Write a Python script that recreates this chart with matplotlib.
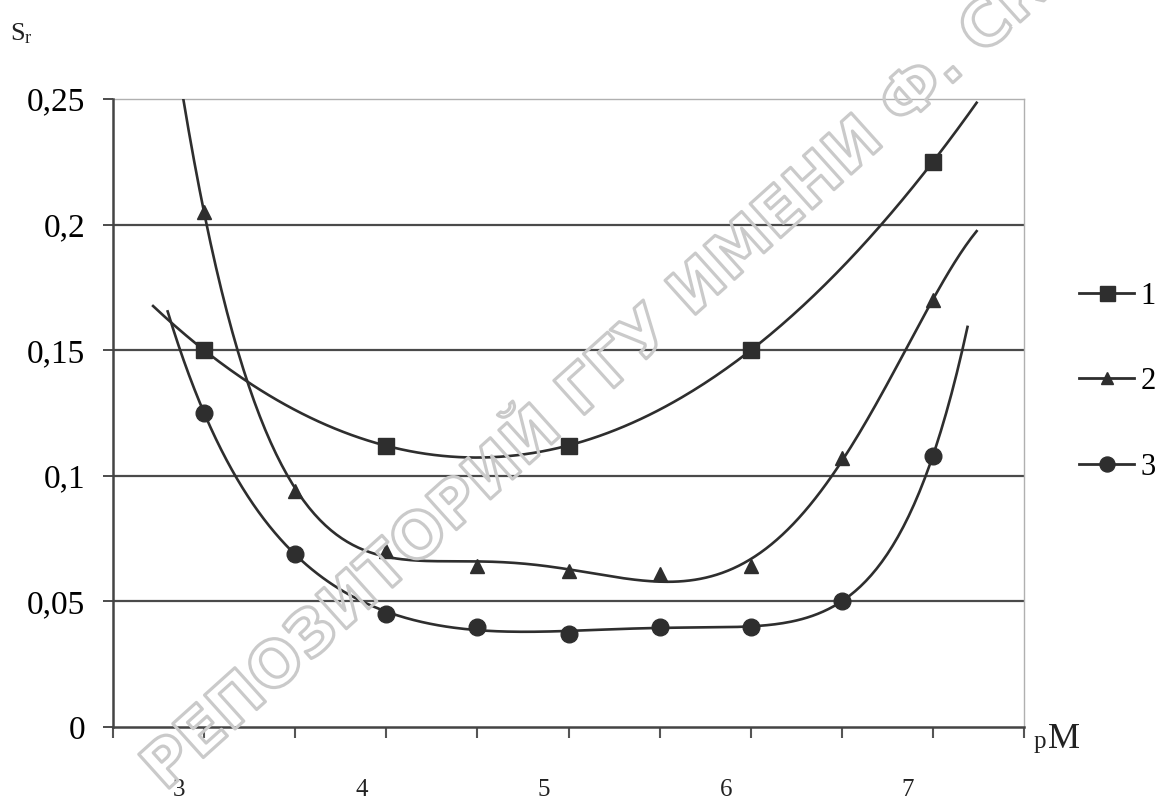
import matplotlib
matplotlib.use("Agg")
import matplotlib.pyplot as plt
import matplotlib.patheffects as pe
import numpy as np

# pM values
x_sq = [3, 4, 5, 6, 7]
x_all = [3, 3.5, 4, 4.5, 5, 5.5, 6, 6.5, 7]

# Sr values
s1 = [0.150, 0.112, 0.112, 0.150, 0.225]
s2 = [0.205, 0.094, 0.070, 0.064, 0.062, 0.061, 0.064, 0.107, 0.170]
s3 = [0.125, 0.069, 0.045, 0.040, 0.037, 0.040, 0.040, 0.050, 0.108]

names = ["1", "2", "3"]
x_labels = [3, 4, 5, 6, 7]
y_ticks = [0, 0.05, 0.1, 0.15, 0.2, 0.25]
y_labels = ["0", "0,05", "0,1", "0,15", "0,2", "0,25"]

INK = "#2e2e2e"
W, H = 1174, 802

plt.rcParams['font.family'] = ['Liberation Serif', 'DejaVu Serif']

fig = plt.figure(figsize=(W / 100, H / 100), dpi=100)
ax = fig.add_axes([113 / W, 1 - 727 / H, (1024 - 113) / W, (727 - 99) / H])

# grid lines (Excel style)
for v in y_ticks[1:-1]:
    ax.axhline(v, color="#4a4a4a", lw=1.6, zorder=1)

# marker, size, poly degree of the trend line, drawn range of the trend line
series = [
    (x_sq, s1, "s", 12, 3, (2.72, 7.24)),
    (x_all, s2, "^", 10, 6, (2.75, 7.24)),
    (x_all, s3, "o", 12, 6, (2.80, 7.19)),
]

handles = []
for (xs, ys, mk, ms, deg, rng), name in zip(series, names):
    # polynomial trend line fitted to the points
    coef = np.polyfit(xs, ys, deg)
    xx = np.linspace(rng[0], rng[1], 300)
    ax.plot(xx, np.polyval(coef, xx), color=INK, lw=1.9, zorder=3)
    ax.plot(xs, ys, ls="none", marker=mk, ms=ms, color=INK, zorder=4)
    h, = ax.plot([], [], color=INK, lw=2, marker=mk, ms=ms * 0.9, label=name)
    handles.append(h)

ax.set_xlim(2.5, 7.5)
ax.set_ylim(0, 0.25)
ax.set_xticks(np.arange(2.5, 7.51, 0.5))
ax.set_xticklabels([])
ax.set_yticks(y_ticks)
ax.set_yticklabels(y_labels, fontsize=24)
ax.tick_params(axis="y", length=7, width=1.2, pad=13, color=INK)
ax.tick_params(axis="x", length=8, width=1.5, color="#555555")

for side in ["left", "bottom"]:
    ax.spines[side].set_color("#444444")
    ax.spines[side].set_linewidth(1.8)
for side in ["top", "right"]:
    ax.spines[side].set_color("#b0b0b0")
    ax.spines[side].set_linewidth(1.0)
ax.spines["left"].set_zorder(5)
ax.spines["bottom"].set_zorder(5)

# x labels, shifted as in the scan
for v in x_labels:
    ax.annotate(str(v), xy=(v, 0), xycoords="data", xytext=(-18, -45.5),
                textcoords="offset points", ha="center", va="center",
                fontsize=18, color="#222222", annotation_clip=False)

fig.text(1034 / W, 1 - 748 / H, "p", fontsize=18, color="#222222", va="baseline")
fig.text(1048 / W, 1 - 748 / H, "M", fontsize=26, color="#222222", va="baseline")
fig.text(10 / W, 1 - 40 / H, r"$\mathregular{S_r}$", fontsize=19, color="#222222", va="baseline")

ax.legend(handles=handles, loc="center left", bbox_to_anchor=(1.047, 0.55),
          frameon=False, fontsize=22, handlelength=1.8, handletextpad=0.2,
          labelspacing=1.85, borderaxespad=0)

# watermark
fig.text(165 / W, 1 - 792 / H, "РЕПОЗИТОРИЙ ГГУ ИМЕНИ Ф. СКОРИНЫ",
         fontsize=45, family="DejaVu Sans", weight="bold", rotation=42,
         rotation_mode="anchor", ha="left", va="baseline", color="none", zorder=0,
         path_effects=[pe.Stroke(linewidth=2.3, foreground="#cacaca")])

fig.savefig("out.png", dpi=100)
